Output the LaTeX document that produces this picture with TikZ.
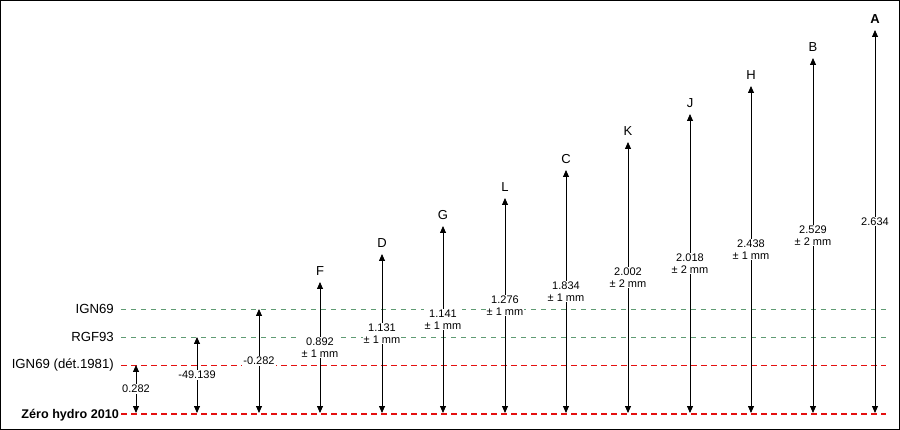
\documentclass[tikz,border=0pt]{standalone}
\usepackage{fontspec}
\setmainfont{Liberation Sans}
\usepackage{xcolor}
\usepackage{tikz}
\usetikzlibrary{positioning,arrows.meta}
\definecolor{vertniv}{RGB}{95,155,115}
\definecolor{rougeniv}{RGB}{228,16,16}

\begin{document}
\begin{tikzpicture}[x=1pt,y=-1pt]
        \tikzstyle{cadre}=[draw=black,line width=1pt]
        \tikzstyle{niveau}=[anchor=east,inner sep=0pt,font=\fontsize{13.2}{15}\selectfont]
        \tikzstyle{vert}=[vertniv,line width=0.8pt,dash pattern=on 5pt off 5pt]
        \tikzstyle{rouge}=[rougeniv,line width=0.8pt,dash pattern=on 6pt off 4pt]
        \tikzstyle{zero}=[rougeniv,line width=2.6pt,dash pattern=on 6pt off 4pt]
        \tikzstyle{fleche}=[line width=0.8pt,{Triangle[width=6pt,length=7pt]}-{Triangle[width=6pt,length=7pt]}]
        \tikzstyle{valeur}=[fill=white,inner sep=1pt,align=center,font=\fontsize{11}{12}\selectfont]
        \tikzstyle{repere}=[anchor=base,inner sep=0pt,font=\fontsize{13}{15}\selectfont]

        \useasboundingbox (0,0) rectangle (900,430);
        \draw[cadre] (0.5,0.5) rectangle (899.5,429.5);

        \draw (114,309) node[niveau] (ign) {IGN69};
        \draw (114,337) node[niveau] (rgf) {RGF93};
        \draw (114,365) node[niveau] (ign81) {IGN69 (dét.1981)};
        \draw (119,415) node[niveau,font=\fontsize{12.6}{15}\selectfont\bfseries] (zh) {Zéro hydro 2010};

        \coordinate (ign-g) at (121,309);
        \coordinate (ign-d) at (886,309);
        \coordinate (rgf-g) at (121,337);
        \coordinate (rgf-d) at (886,337);
        \coordinate (ign81-g) at (121,365);
        \coordinate (ign81-d) at (886,365);
        \coordinate (zh-g) at (121,414);
        \coordinate (zh-d) at (886,414);

        \draw[vert] (ign-g) -- (ign-d);
        \draw[vert] (rgf-g) -- (rgf-d);
        \draw[rouge] (ign81-g) -- (ign81-d);

        \coordinate (b1) at (136,413);  \coordinate (h1) at (136,365);
        \coordinate (b2) at (197,413);  \coordinate (h2) at (197,337);
        \coordinate (b3) at (259,413);  \coordinate (h3) at (259,309);
        \coordinate (bF) at (320,413);  \coordinate (hF) at (320,282);
        \coordinate (bD) at (382,413);  \coordinate (hD) at (382,254);
        \coordinate (bG) at (443,413);  \coordinate (hG) at (443,226);
        \coordinate (bL) at (505,413);  \coordinate (hL) at (505,198);
        \coordinate (bC) at (566,413);  \coordinate (hC) at (566,170);
        \coordinate (bK) at (628,413);  \coordinate (hK) at (628,142);
        \coordinate (bJ) at (690,413);  \coordinate (hJ) at (690,114);
        \coordinate (bH) at (751,413);  \coordinate (hH) at (751,86);
        \coordinate (bB) at (813,413);  \coordinate (hB) at (813,58);
        \coordinate (bA) at (875,413);  \coordinate (hA) at (875,30);

        \draw[fleche] (b1) -- (h1);
        \draw[fleche] (b2) -- (h2);
        \draw[fleche] (b3) -- (h3);
        \draw[fleche] (bF) -- (hF);
        \draw[fleche] (bD) -- (hD);
        \draw[fleche] (bG) -- (hG);
        \draw[fleche] (bL) -- (hL);
        \draw[fleche] (bC) -- (hC);
        \draw[fleche] (bK) -- (hK);
        \draw[fleche] (bJ) -- (hJ);
        \draw[fleche] (bH) -- (hH);
        \draw[fleche] (bB) -- (hB);
        \draw[fleche] (bA) -- (hA);

        \draw[zero] (zh-g) -- (zh-d);

        \path (b1) -- (h1) node[valeur,midway] (v1) {0.282};
        \path (b2) -- (h2) node[valeur,midway] (v2) {-49.139};
        \path (b3) -- (h3) node[valeur,midway] (v3) {-0.282};
        \path (bF) -- (hF) node[valeur,midway] (vF) {0.892\\± 1 mm};
        \path (bD) -- (hD) node[valeur,midway] (vD) {1.131\\± 1 mm};
        \path (bG) -- (hG) node[valeur,midway] (vG) {1.141\\± 1 mm};
        \path (bL) -- (hL) node[valeur,midway] (vL) {1.276\\± 1 mm};
        \path (bC) -- (hC) node[valeur,midway] (vC) {1.834\\± 1 mm};
        \path (bK) -- (hK) node[valeur,midway] (vK) {2.002\\± 2 mm};
        \path (bJ) -- (hJ) node[valeur,midway] (vJ) {2.018\\± 2 mm};
        \path (bH) -- (hH) node[valeur,midway] (vH) {2.438\\± 1 mm};
        \path (bB) -- (hB) node[valeur,midway] (vB) {2.529\\± 2 mm};
        \path (bA) -- (hA) node[valeur,midway] (vA) {2.634};

        \path (hF) ++(0,-6) node[repere] (pF) {F};
        \path (hD) ++(0,-6) node[repere] (pD) {D};
        \path (hG) ++(0,-6) node[repere] (pG) {G};
        \path (hL) ++(0,-6) node[repere] (pL) {L};
        \path (hC) ++(0,-6) node[repere] (pC) {C};
        \path (hK) ++(0,-6) node[repere] (pK) {K};
        \path (hJ) ++(0,-6) node[repere] (pJ) {J};
        \path (hH) ++(0,-6) node[repere] (pH) {H};
        \path (hB) ++(0,-6) node[repere] (pB) {B};
        \path (hA) ++(0,-6) node[repere,font=\fontsize{13}{15}\selectfont\bfseries] (pA) {A};
    \end{tikzpicture}
\end{document}
